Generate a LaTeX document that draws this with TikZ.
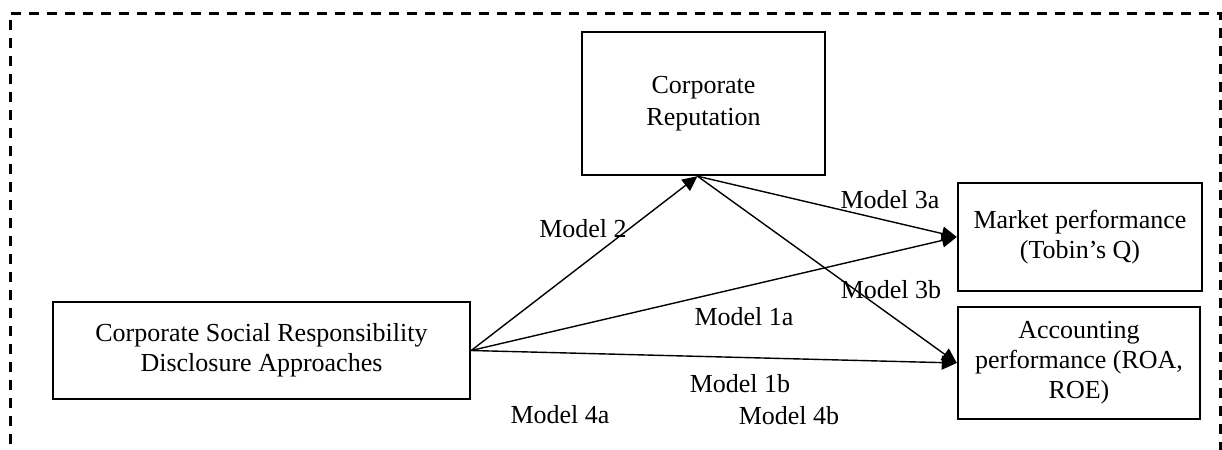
\documentclass[tikz,border=0pt]{standalone}
\usepackage{fontspec}
\setmainfont{Liberation Serif}
\usetikzlibrary{arrows.meta}
\begin{document}
\begin{tikzpicture}[x=0.5pt,y=-0.5pt,
  box/.style={draw, line width=1.2pt, align=center, font=\fontsize{13}{15}\selectfont, inner sep=0pt},
  lbl/.style={font=\fontsize{13}{15}\selectfont, inner sep=0pt},
  link/.style={line width=0.7pt, -{Triangle[length=7.5pt,width=7pt]}},
  frame/.style={line width=1.5pt, dash pattern=on 5pt off 4pt}
]
\useasboundingbox (0,0) rectangle (1222,450);
\begin{scope}
\clip (0,0) rectangle (1222,450);
\draw[frame] (10,480) -- (10,13) -- (1220,13) -- (1220,480);
\end{scope}

\node[box, minimum width=121.5pt, minimum height=71.5pt] (cr) at (703.5,103.5) {Corporate\\[1pt]Reputation};
\node[box, minimum width=208.5pt, minimum height=48.5pt] (csr) at (261.5,350.5) {Corporate Social Responsibility\\Disclosure Approaches};
\node[box, minimum width=122pt, minimum height=54pt] (mp) at (1080,237) {Market performance\\(Tobin’s Q)};
\node[box, minimum width=121pt, minimum height=56pt] (ap) at (1079,363) {Accounting\\performance (ROA,\\ROE)};

\draw[link] (csr.east) -- ([xshift=-3pt]cr.south);
\draw[link] ([xshift=-3pt]cr.south) -- (mp.west);
\draw[link] ([xshift=-3pt]cr.south) -- (ap.west);
\draw[link] (csr.east) -- (mp.west);
\draw[link] (csr.east) -- (ap.west);

\node[lbl] (m2) at (583,229) {Model 2};
\node[lbl] (m3a) at (890,200) {Model 3a};
\node[lbl] (m3b) at (891,290) {Model 3b};
\node[lbl] (m1a) at (744,317) {Model 1a};
\node[lbl] (m1b) at (740,384) {Model 1b};
\node[lbl] (m4a) at (560,415) {Model 4a};
\node[lbl] (m4b) at (789,416) {Model 4b};
\end{tikzpicture}
\end{document}
